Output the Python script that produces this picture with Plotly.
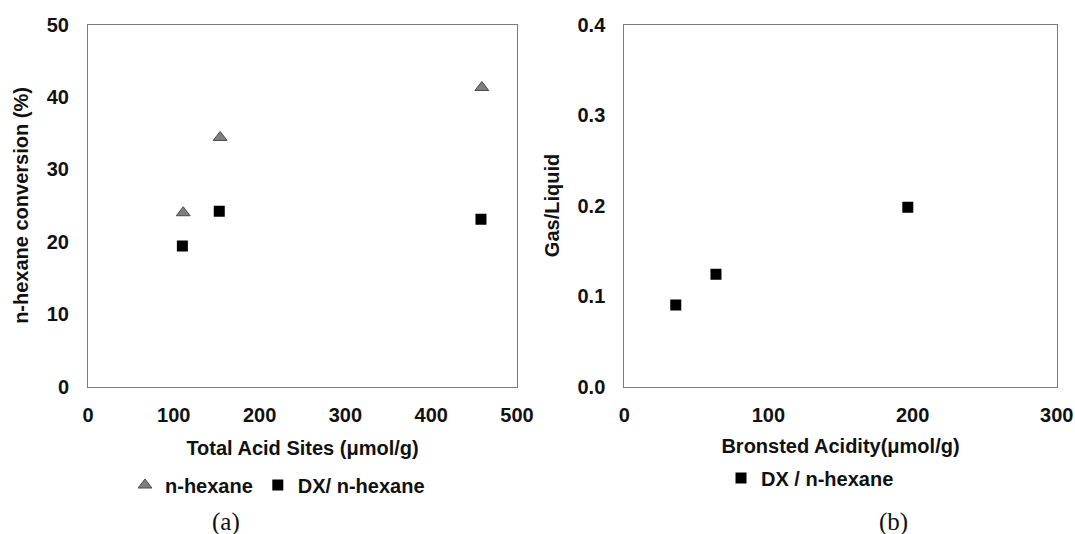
import plotly.graph_objects as go

# Panel (a)
acid_sites_hex = [111, 154, 459]
conv_hex = [24.0, 34.4, 41.3]
acid_sites_dx = [110, 153, 458]
conv_dx = [19.4, 24.2, 23.1]

# Panel (b)
bronsted = [35.7, 63.6, 196.7]
gas_liquid = [0.090, 0.124, 0.198]

FONT = "Liberation Sans, Arial, sans-serif"
SERIF = "Liberation Serif, Times New Roman, serif"
TXT = "#111111"

fig = go.Figure()
fig.add_trace(go.Scatter(x=acid_sites_hex, y=conv_hex, mode="markers", name="n-hexane",
                         marker=dict(symbol="triangle-up", size=12, color="#7f7f7f",
                                     line=dict(color="#4a4a4a", width=1)),
                         xaxis="x", yaxis="y", legend="legend"))
fig.add_trace(go.Scatter(x=acid_sites_dx, y=conv_dx, mode="markers", name="DX/ n-hexane",
                         marker=dict(symbol="square", size=11, color="black"),
                         xaxis="x", yaxis="y", legend="legend"))
fig.add_trace(go.Scatter(x=bronsted, y=gas_liquid, mode="markers", name="DX / n-hexane",
                         marker=dict(symbol="square", size=11, color="black"),
                         xaxis="x2", yaxis="y2", legend="legend2"))

tickfont = dict(family=FONT, size=20, color=TXT, weight="bold")
titlefont = dict(family=FONT, size=20, color=TXT, weight="bold")
axis_common = dict(showgrid=False, zeroline=False, showline=True, mirror=True,
                   linecolor="#7a7a7a", linewidth=1, ticks="", automargin=False,
                   tickfont=tickfont)

ydom = [1 - 386.5 / 534, 1 - 24.5 / 534]
fig.update_layout(
    template="none",
    width=1075, height=534, margin=dict(l=0, r=0, t=0, b=0, autoexpand=False),
    paper_bgcolor="white", plot_bgcolor="white",
    xaxis=dict(domain=[88 / 1075, 517 / 1075], range=[0, 500], dtick=100,
               title=dict(text="Total Acid Sites (μmol/g)", standoff=16, font=titlefont),
               ticklabelstandoff=10, anchor="y", **axis_common),
    yaxis=dict(domain=ydom, range=[0, 50], dtick=10,
               title=dict(text="n-hexane conversion (%)", standoff=12, font=titlefont),
               ticklabelstandoff=14, anchor="x", **axis_common),
    xaxis2=dict(domain=[624.3 / 1075, 1056.7 / 1075], range=[0, 300], dtick=100,
                title=dict(text="Bronsted Acidity(μmol/g)", standoff=14, font=titlefont),
                ticklabelstandoff=10, anchor="y2", **axis_common),
    yaxis2=dict(domain=ydom, range=[0, 0.4], dtick=0.1, tickformat=".1f",
                title=dict(text="Gas/Liquid", standoff=12, font=titlefont),
                ticklabelstandoff=14, anchor="x2", **axis_common),
    legend=dict(orientation="h", x=125 / 1075, y=1 - 485 / 534, xanchor="left", yanchor="middle",
                font=dict(family=FONT, size=20, color=TXT, weight="bold"),
                bgcolor="rgba(0,0,0,0)", itemwidth=30),
    legend2=dict(orientation="h", x=721 / 1075, y=1 - 478 / 534, xanchor="left", yanchor="middle",
                 font=dict(family=FONT, size=20, color=TXT, weight="bold"),
                 bgcolor="rgba(0,0,0,0)", itemwidth=30),
    showlegend=True,
)

fig.add_annotation(text="(a)", x=226 / 1075, y=1 - 522 / 534, xref="paper", yref="paper",
                   xanchor="center", yanchor="middle",
                   showarrow=False, font=dict(family=SERIF, size=25, color=TXT))
fig.add_annotation(text="(b)", x=893 / 1075, y=1 - 522 / 534, xref="paper", yref="paper",
                   xanchor="center", yanchor="middle",
                   showarrow=False, font=dict(family=SERIF, size=25, color=TXT))

fig.write_html("out.html")
